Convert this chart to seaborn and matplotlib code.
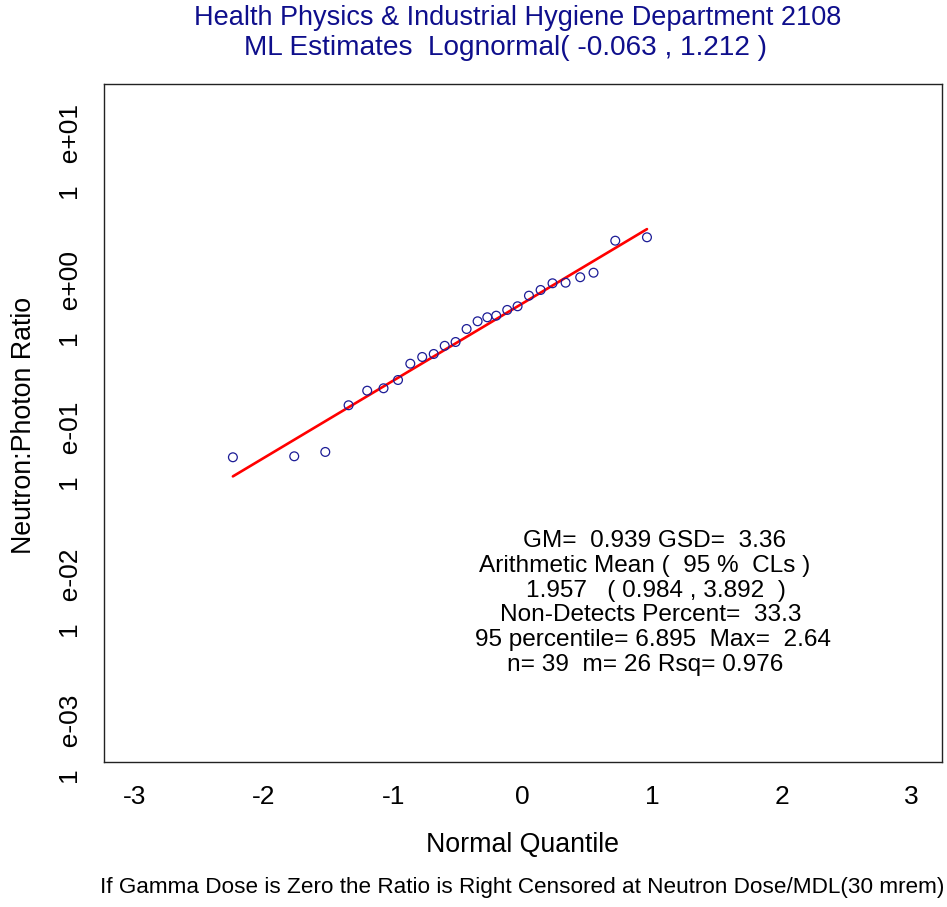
import numpy as np
import pandas as pd
import matplotlib
matplotlib.use("Agg")
import matplotlib.pyplot as plt
import seaborn as sns

# ---- data ----
quantiles = [-2.240, -1.766, -1.526, -1.346, -1.202, -1.076, -0.964, -0.869, -0.777,
             -0.688, -0.603, -0.519, -0.434, -0.349, -0.274, -0.205, -0.120, -0.040,
             0.048, 0.138, 0.230, 0.331, 0.444, 0.547, 0.715, 0.960]
ratios = [0.0839, 0.0852, 0.0912, 0.1897, 0.2384, 0.2476, 0.2819, 0.3641, 0.4045,
          0.424, 0.482, 0.5117, 0.6275, 0.708, 0.754, 0.773, 0.846, 0.896,
          1.058, 1.157, 1.285, 1.297, 1.413, 1.517, 2.506, 2.644]
mu_log = -0.063
sd_log = 1.212
x_ticks = [-3, -2, -1, 0, 1, 2, 3]
y_ticks = [1e-3, 1e-2, 1e-1, 1e0, 1e1]
y_tick_labels = ["1   e-03", "1   e-02", "1   e-01", "1   e+00", "1   e+01"]
title_lines = ["Health Physics & Industrial Hygiene Department 2108",
               "ML Estimates  Lognormal( -0.063 , 1.212 )"]
stats_lines = ["GM=  0.939 GSD=  3.36",
               "Arithmetic Mean (  95 %  CLs )",
               "1.957   ( 0.984 , 3.892  )",
               "Non-Detects Percent=  33.3",
               "95 percentile= 6.895  Max=  2.64",
               "n= 39  m= 26 Rsq= 0.976"]
x_label = "Normal Quantile"
y_label = "Neutron:Photon Ratio"
footnote = "If Gamma Dose is Zero the Ratio is Right Censored at Neutron Dose/MDL(30 mrem)"

pts = pd.DataFrame({"q": quantiles, "ratio": ratios})
zq = np.array([min(quantiles), max(quantiles)])
fit = pd.DataFrame({"q": zq, "ratio": np.exp(mu_log + sd_log * zq)})

sns.set_theme(style="white")
plt.rcParams["font.family"] = ["Liberation Sans", "DejaVu Sans"]
plt.rcParams["text.color"] = "black"

W, H = 947, 907
fig = plt.figure(figsize=(W / 100, H / 100), dpi=100)
ax = fig.add_axes([103.5 / W, 1 - 762 / H, (942 - 103.5) / W, (762 - 84.5) / H])

navy = "#1c1c96"
sns.lineplot(data=fit, x="q", y="ratio", ax=ax, color="red", linewidth=1.9)
sns.scatterplot(data=pts, x="q", y="ratio", ax=ax, marker="o", s=40,
                facecolor="none", edgecolor=navy, linewidth=0.9, zorder=3)

ax.set_yscale("log")
ax.set_xlim(-3.24, 3.24)
ax.set_ylim(10 ** -3.152, 10 ** 1.463)
ax.set_xticks(x_ticks)
ax.set_xticklabels([str(t) for t in x_ticks])
ax.set_yticks(y_ticks)
ax.set_yticklabels(y_tick_labels, rotation=90, va="center")
ax.yaxis.set_minor_locator(matplotlib.ticker.NullLocator())
ax.tick_params(axis="both", which="major", direction="out", length=7.5, width=0.9,
               color="#333333", labelsize=19, labelcolor="black")
ax.tick_params(axis="x", pad=9)
ax.tick_params(axis="y", pad=7)
ax.set_xlabel("")
ax.set_ylabel("")
for sp in ax.spines.values():
    sp.set_color("#222222")
    sp.set_linewidth(1.0)

# titles
fig.text(518 / W, 1 - 18 / H, title_lines[0], ha="center", va="center",
         fontsize=19.5, color="#0f0f8c")
fig.text(506 / W, 1 - 48 / H, title_lines[1], ha="center", va="center",
         fontsize=20.2, color="#0f0f8c")

# axis labels
fig.text(522 / W, 1 - 845 / H, x_label, ha="center", va="center", fontsize=19.3,
         color="black")
fig.text(24 / W, 1 - 425 / H, y_label, ha="center", va="center", fontsize=19.3,
         rotation=90, color="black")
fig.text(522 / W, 1 - 888 / H, footnote, ha="center", va="center", fontsize=16.2,
         color="black")

# stats block
centers_x = [655, 645, 656, 651, 653, 645]
y0, dy = 541, 24.8
for i, (line, cx) in enumerate(zip(stats_lines, centers_x)):
    fig.text(cx / W, 1 - (y0 + i * dy) / H, line, ha="center", va="center",
             fontsize=17.6, color="black")

fig.savefig("out.png", dpi=100)
